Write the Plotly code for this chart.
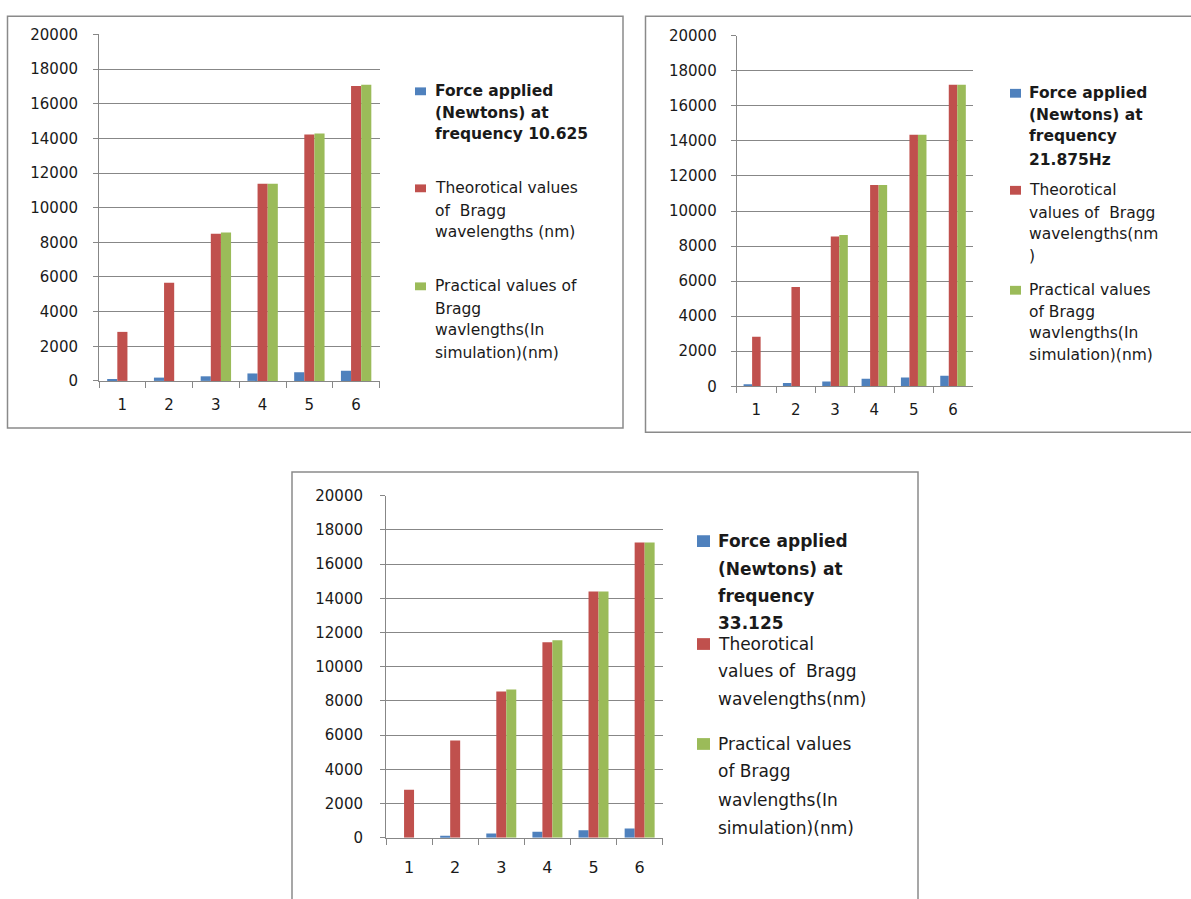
import plotly.graph_objects as go

W, H = 1191, 899

categories = ["1", "2", "3", "4", "5", "6"]

# Chart 1 - 10.625 Hz
force_10 = [110, 190, 265, 430, 505, 585]
theory_10 = [2830, 5670, 8500, 11380, 14220, 17030]
practical_10 = [0, 0, 8570, 11380, 14290, 17100]

# Chart 2 - 21.875 Hz
force_21 = [110, 185, 280, 430, 505, 595]
theory_21 = [2830, 5670, 8540, 11480, 14350, 17200]
practical_21 = [0, 0, 8630, 11480, 14350, 17200]

# Chart 3 - 33.125 Hz
force_33 = [0, 115, 250, 345, 440, 535]
theory_33 = [2810, 5690, 8560, 11440, 14400, 17270]
practical_33 = [0, 0, 8670, 11550, 14400, 17270]

legend_10 = [
    ["Force applied", "(Newtons) at", "frequency 10.625"],
    ["Theorotical values", "of  Bragg", "wavelengths (nm)"],
    ["Practical values of", "Bragg", "wavlengths(In", "simulation)(nm)"],
]
legend_21 = [
    ["Force applied", "(Newtons) at", "frequency", "21.875Hz"],
    ["Theorotical", "values of  Bragg", "wavelengths(nm", ")"],
    ["Practical values", "of Bragg", "wavlengths(In", "simulation)(nm)"],
]
legend_33 = [
    ["Force applied", "(Newtons) at", "frequency", "33.125"],
    ["Theorotical", "values of  Bragg", "wavelengths(nm)"],
    ["Practical values", "of Bragg", "wavlengths(In", "simulation)(nm)"],
]

colors = ["#4F81BD", "#C0504D", "#9BBB59"]
grid_col = "#878787"
font_family = "DejaVu Sans"


def px(x):
    return x / W


def py(y):
    return 1 - y / H


fig = go.Figure()

panels = [
    dict(series=[force_10, theory_10, practical_10], legend=legend_10,
         xdom=(99, 379.5), ydom=(26, 379.5),
         box=(7.5, 7.5, 623, 427.5),
         tick_font=15, x_standoff=10, y_standoff=12,
         leg_x=433, mark_x=415, mark_size=(11, 8), leg_font=15.5,
         leg_y=[[84, 106, 128], [183, 206, 228], [283, 306, 328, 351]]),
    dict(series=[force_21, theory_21, practical_21], legend=legend_21,
         xdom=(736.7, 972.7), ydom=(27.3, 385),
         box=(645.5, 7.5, 1200, 432),
         tick_font=15, x_standoff=10, y_standoff=11,
         leg_x=1027, mark_x=1010, mark_size=(11, 9), leg_font=15.5,
         leg_y=[[86, 108, 130, 154], [185, 208, 230, 252], [287, 309, 331, 353]]),
    dict(series=[force_33, theory_33, practical_33], legend=legend_33,
         xdom=(386, 662.7), ydom=(496.7, 845.7),
         box=(292, 472.5, 918, 920),
         tick_font=16, x_standoff=15, y_standoff=14,
         leg_x=716, mark_x=697, mark_size=(13, 12), leg_font=17,
         leg_y=[[543, 571, 599, 627], [648, 676, 704], [750, 778, 807, 836]]),
]

shapes = []
annotations = []

for i, p in enumerate(panels):
    n = "" if i == 0 else str(i + 1)
    xa, ya = "x" + n, "y" + n
    for s, vals in enumerate(p["series"]):
        fig.add_trace(go.Bar(
            x=categories, y=vals, xaxis=xa, yaxis=ya,
            marker=dict(color=colors[s], line=dict(width=0)),
            name=p["legend"][s][0], showlegend=False,
        ))
    x0, x1 = p["xdom"]
    ytop, ybot = p["ydom"]
    fig.update_layout(**{
        "xaxis" + n: dict(
            domain=[px(x0), px(x1)], anchor=ya, type="category",
            range=[-0.5, 5.5], showline=True, linecolor=grid_col, linewidth=1,
            ticks="outside", tickson="boundaries", ticklen=6, tickcolor=grid_col,
            showgrid=False, fixedrange=True, ticklabelstandoff=p["x_standoff"],
            tickfont=dict(family=font_family, size=p["tick_font"], color="#1a1a1a"),
        ),
        "yaxis" + n: dict(
            domain=[py(ybot), py(ytop)], anchor=xa, range=[0, 20000],
            dtick=2000, tick0=0, tickformat="d",
            showline=True, linecolor=grid_col, linewidth=1,
            ticks="outside", ticklen=5, tickcolor=grid_col,
            showgrid=True, gridcolor=grid_col, gridwidth=1, zeroline=False,
            fixedrange=True, ticklabelstandoff=p["y_standoff"],
            tickfont=dict(family=font_family, size=15, color="#1a1a1a"),
        ),
    })
    # chart frame
    bx0, by0, bx1, by1 = p["box"]
    shapes.append(dict(
        type="rect", xref="paper", yref="paper",
        x0=px(bx0), x1=px(bx1), y0=py(by1), y1=py(by0),
        line=dict(color="#8a8a8a", width=1.5), fillcolor="rgba(0,0,0,0)",
        layer="below",
    ))
    # legend: colour key plus wrapped series names
    mw, mh = p["mark_size"]
    for s, lines in enumerate(p["legend"]):
        first_y = p["leg_y"][s][0]
        shapes.append(dict(
            type="rect", xref="paper", yref="paper",
            x0=px(p["mark_x"]), x1=px(p["mark_x"] + mw),
            y0=py(first_y + mh / 2), y1=py(first_y - mh / 2),
            line=dict(width=0), fillcolor=colors[s],
        ))
        for k, txt in enumerate(lines):
            annotations.append(dict(
                xref="paper", yref="paper", x=px(p["leg_x"]), y=py(p["leg_y"][s][k]),
                xanchor="left", yanchor="middle", showarrow=False,
                text=f"<b>{txt}</b>" if s == 0 else txt,
                font=dict(family=font_family, size=p["leg_font"], color="#1a1a1a"),
            ))

fig.update_layout(
    width=W, height=H, margin=dict(l=0, r=0, t=0, b=0),
    paper_bgcolor="white", plot_bgcolor="white",
    barmode="group", bargap=0.35, bargroupgap=0,
    showlegend=False, shapes=shapes, annotations=annotations,
)

fig.write_html("out.html")
